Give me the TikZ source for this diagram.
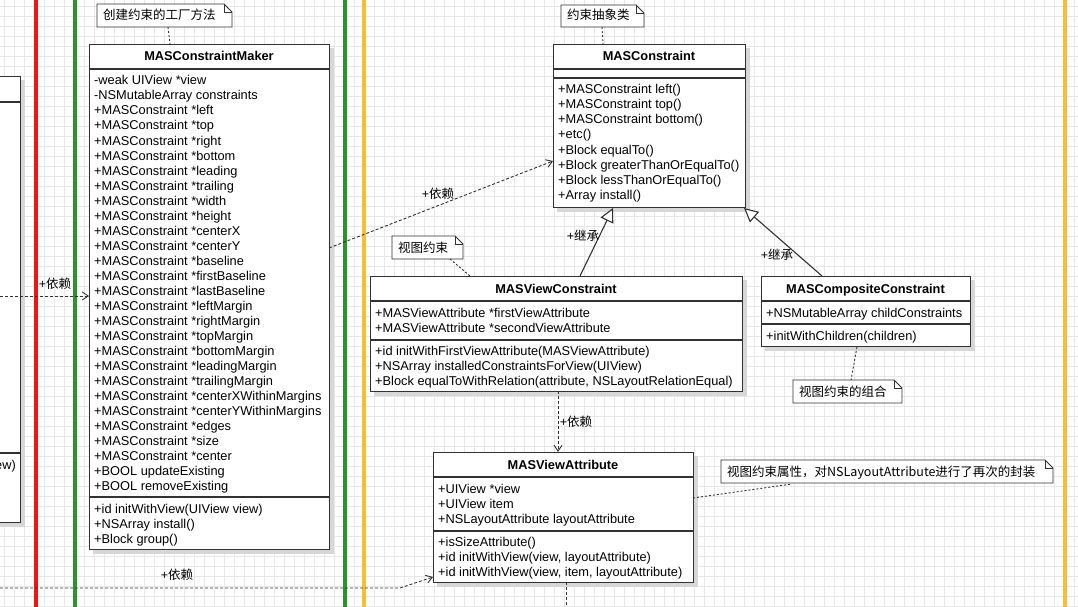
\documentclass[tikz,border=0pt]{standalone}
\usepackage{fontspec}
\setmainfont{Liberation Sans}
\newfontfamily\cjk{Noto Sans CJK SC}
\usetikzlibrary{arrows.meta,calc}
\definecolor{gridc}{RGB}{232,232,232}
\definecolor{boxline}{RGB}{50,50,50}
\definecolor{shad}{RGB}{215,215,215}
\definecolor{myred}{RGB}{240,20,20}
\definecolor{mygreen}{RGB}{40,150,40}
\definecolor{myorange}{RGB}{250,190,50}
\tikzset{
 cls/.style={draw=boxline,fill=white,line width=1.1pt,inner sep=0,anchor=north west},
 shadow/.style={fill=shad,draw=none},
 row/.style={anchor=base west,inner sep=0,font=\fontsize{12.8}{14}\selectfont},
 title/.style={anchor=base,inner sep=0,font=\fontsize{12.8}{14}\selectfont\bfseries},
 sep/.style={draw=boxline,line width=1.1pt},
 dep/.style={draw=boxline,line width=0.9pt,dash pattern=on 3pt off 2pt,-{Straight Barb[length=6pt,width=8pt]}},
 depn/.style={draw=boxline,line width=0.9pt,dash pattern=on 3pt off 2pt},
 inh/.style={draw=boxline,line width=1.1pt,-{Triangle[open,length=14pt,width=14pt,fill=white]}},
 lbl/.style={inner sep=0,font=\fontsize{12.5}{14}\selectfont},
 notel/.style={draw=boxline,line width=0.9pt,dash pattern=on 2pt off 2pt},
 notet/.style={inner sep=0,anchor=base west,font=\cjk\fontsize{12.5}{14}\selectfont},
 lane/.style={line width=3.4pt},
}
\newcommand{\umlnote}[6]{%
 \fill[fill=white] (#2,#3) -- (#4-8,#3) -- (#4,#3+8) -- (#4,#5) -- (#2,#5) -- cycle;
 \draw[boxline,line width=0.9pt] (#2,#3) -- (#4-8,#3) -- (#4,#3+8) -- (#4,#5) -- (#2,#5) -- cycle;
 \draw[boxline,line width=0.9pt] (#4-8,#3) -- (#4-8,#3+8) -- (#4,#3+8);
 \coordinate (#1) at ({(#2+#4)/2},{(#3+#5)/2});
 \node[notet] (#1t) at (#2+6,#5-7) {#6};}
\newcommand{\clsbox}[6]{%
 \fill[shadow] (#2+4,#3+4) rectangle (#4+5,#5+5);
 \node[cls,minimum width=#4pt-#2pt,minimum height=#5pt-#3pt] (#1) at (#2,#3) {};
 \draw[sep] (#2,#3+25) -- (#4,#3+25);
 \node[title] (#1title) at ({(#2+#4)/2},#3+17) {#6};}
\begin{document}
\begin{tikzpicture}[x=1pt,y=-1pt]
\useasboundingbox (0,0) rectangle (1078,607);
\fill[white] (0,0) rectangle (1078,607);
\foreach \i in {0,10,...,1070} \draw[gridc,line width=0.5pt] (\i+4,0) -- (\i+4,607);
\foreach \j in {0,10,...,600} \draw[gridc,line width=0.5pt] (0,\j+6) -- (1078,\j+6);
\draw[myred,lane] (36,0) -- (36,607);
\draw[mygreen,lane] (75,0) -- (75,607);
\draw[mygreen,lane] (345,0) -- (345,607);
\draw[myorange,lane] (364,0) -- (364,607);
\draw[myorange,lane] (1065,0) -- (1065,607);

\fill[shadow] (-5,80) rectangle (25,527);
\node[cls,minimum width=30pt,minimum height=446pt] (left) at (-10,76) {};
\draw[sep] (-10,102) -- (20,102);
\draw[sep] (-10,453) -- (20,453);
\node[row] (lefttxt) at (-5,469) {ew)};

\clsbox{mk}{89}{44}{329}{549}{MASConstraintMaker}
\foreach \t [count=\k from 0] in {-weak UIView *view,-NSMutableArray constraints,+MASConstraint *left,+MASConstraint *top,+MASConstraint *right,+MASConstraint *bottom,+MASConstraint *leading,+MASConstraint *trailing,+MASConstraint *width,+MASConstraint *height,+MASConstraint *centerX,+MASConstraint *centerY,+MASConstraint *baseline,+MASConstraint *firstBaseline,+MASConstraint *lastBaseline,+MASConstraint *leftMargin,+MASConstraint *rightMargin,+MASConstraint *topMargin,+MASConstraint *bottomMargin,+MASConstraint *leadingMargin,+MASConstraint *trailingMargin,+MASConstraint *centerXWithinMargins,+MASConstraint *centerYWithinMargins,+MASConstraint *edges,+MASConstraint *size,+MASConstraint *center,+BOOL updateExisting,+BOOL removeExisting}
  \node[row] (mka\k) at (94,85+15*\k) {\t};
\draw[sep] (89,497) -- (329,497);
\foreach \t [count=\k from 0] in {+id initWithView(UIView view),+NSArray install(),+Block group()}
  \node[row] (mkm\k) at (94,513+15*\k) {\t};
\umlnote{n1}{97}{4}{232}{27}{创建约束的工厂方法}
\draw[notel] (168,27) -- (170,44);

\clsbox{mc}{553}{44}{745}{207}{MASConstraint}
\draw[sep] (553,78) -- (745,78);
\foreach \t [count=\k from 0] in {+MASConstraint left(),+MASConstraint top(),+MASConstraint bottom(),+etc(),+Block equalTo(),+Block greaterThanOrEqualTo(),+Block lessThanOrEqualTo(),+Array install()}
  \node[row] (mcm\k) at (558,94+15*\k) {\t};
\umlnote{n2}{561}{5}{644}{27}{约束抽象类}
\draw[notel] (602,27) -- (603,44);

\clsbox{vc}{370}{276}{742}{391}{MASViewConstraint}
\foreach \t [count=\k from 0] in {+MASViewAttribute *firstViewAttribute,+MASViewAttribute *secondViewAttribute}
  \node[row] (vca\k) at (375,317+15*\k) {\t};
\draw[sep] (370,340) -- (742,340);
\foreach \t [count=\k from 0] in {+id initWithFirstViewAttribute(MASViewAttribute),+NSArray installedConstraintsForView(UIView),+Block equalToWithRelation(attribute{,} NSLayoutRelationEqual)}
  \node[row] (vcm\k) at (375,355+15*\k) {\t};
\umlnote{n3}{392}{236}{463}{259}{视图约束}
\draw[notel] (450,259) -- (470,276);

\clsbox{cc}{761}{276}{970}{346}{MASCompositeConstraint}
\node[row] (cca0) at (766,317) {+NSMutableArray childConstraints};
\draw[sep] (761,324) -- (970,324);
\node[row] (ccm0) at (766,340) {+initWithChildren(children)};
\umlnote{n4}{793}{380}{902}{403}{视图约束的组合}
\draw[notel] (857,347) -- (851,380);

\clsbox{va}{433}{452}{693}{582}{MASViewAttribute}
\foreach \t [count=\k from 0] in {+UIView *view,+UIView item,+NSLayoutAttribute layoutAttribute}
  \node[row] (vaa\k) at (438,493+15*\k) {\t};
\draw[sep] (433,531) -- (693,531);
\foreach \t [count=\k from 0] in {+isSizeAttribute(),+id initWithView(view{,} layoutAttribute),+id initWithView(view{,} item{,} layoutAttribute)}
  \node[row] (vam\k) at (438,546+15*\k) {\t};
\umlnote{n5}{721}{460}{1053}{483}{视图约束属性，对NSLayoutAttribute进行了再次的封装}
\draw[notel] (693,498) -- (792,484);

\coordinate (a1) at (329,248);
\coordinate (a2) at (553,161);
\draw[dep] (a1) -- (a2);
\node[lbl] (l1) at (438,194) {+{\cjk 依赖}};

\coordinate (b1) at (580,276);
\coordinate (b2) at (613,208);
\draw[inh] (b1) -- (b2);
\node[lbl] (l2) at (583,236) {+{\cjk 继承}};
\coordinate (c1) at (822,276);
\coordinate (c2) at (744,208);
\draw[inh] (c1) -- (c2);
\node[lbl] (l3) at (777,255) {+{\cjk 继承}};

\coordinate (d1) at (558,391);
\coordinate (d2) at (558,452);
\draw[dep] (d1) -- (d2);
\node[lbl] (l4) at (576,422) {+{\cjk 依赖}};

\coordinate (e0) at (0,588);
\coordinate (e1) at (400,588);
\coordinate (e2) at (433,577);
\draw[dep] (e0) -- (e1) -- (e2);
\node[lbl] (l5) at (177,575) {+{\cjk 依赖}};

\coordinate (f0) at (0,296);
\coordinate (f1) at (89,296);
\draw[dep] (f0) -- (f1);
\node[lbl] (l6) at (55,284) {+{\cjk 依赖}};

\coordinate (g1) at (566,582);
\coordinate (g2) at (566,607);
\draw[depn] (g1) -- (g2);
\end{tikzpicture}
\end{document}
